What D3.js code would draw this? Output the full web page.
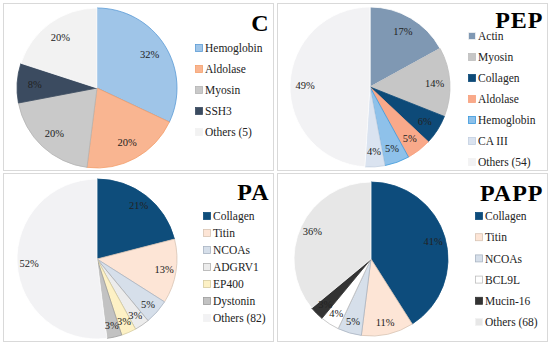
<!DOCTYPE html>
<html><head><meta charset="utf-8">
<script src="https://cdn.jsdelivr.net/npm/d3@7"></script>
<style>body{margin:0;background:#fff}svg{display:block}
svg text{font-family:"Times New Roman",Times,"Liberation Serif","DejaVu Serif",serif}</style>
</head><body>
<svg id="chart" width="550" height="346"></svg>
<script>
// ---- data ----
const cCategories = ["Hemoglobin","Aldolase","Myosin","SSH3","Others (5)"];
const cValues = [32,20,20,8,20];
const pepCategories = ["Actin","Myosin","Collagen","Aldolase","Hemoglobin","CA III","Others (54)"];
const pepValues = [17,14,6,5,5,4,49];
const paCategories = ["Collagen","Titin","NCOAs","ADGRV1","EP400","Dystonin","Others (82)"];
const paValues = [21,13,5,3,3,3,52];
const pappCategories = ["Collagen","Titin","NCOAs","BCL9L","Mucin-16","Others (68)"];
const pappValues = [41,11,5,4,3,36];

// ---- styles ----
const cFill = ["#9fc5e8","#f9b591","#c9c9c9","#3b4b60","#f2f2f2"];
const cStroke = ["#5b9bd5","#f4a06c","#b4b4b4","#3b4b60","#ffffff"];
const pepFill = ["#7f98b3","#c6c6c6","#0d4a78","#f9a98a","#8ec1ea","#dae3f0","#f2f2f4"];
const pepStroke = ["#ffffff","#bdbdbd","#0d4a78","#f7a07c","#3a98dc","#c3cfe0","#ffffff"];
const paFill = ["#0e4d7b","#fde5d6","#d6dfea","#ececec","#fdf1c5","#c2c2c2","#f2f2f4"];
const paStroke = ["#0e4d7b","#d8c4b4","#a9b4c2","#b0b0b0","#d6cb9e","#9c9c9c","#ffffff"];
const pappFill = ["#0d4c7c","#fde5d6","#d6dfea","#ffffff","#333333","#e7e7e7"];
const pappStroke = ["#0d4c7c","#d8c4b4","#a9b4c2","#bdbdbd","#333333","#ffffff"];

const svg = d3.select("#chart");

const panels = [
  {title:"C", cats:cCategories, vals:cValues, fill:cFill, stroke:cStroke,
   box:[3.5,3.5,270,167], cx:97, cy:88, r:80, lf:0.78, lx:195, ly:48, ls:21, tb:27},
  {title:"PEP", cats:pepCategories, vals:pepValues, fill:pepFill, stroke:pepStroke,
   box:[277.5,3.5,270,167], cx:370, cy:87, r:80, lf:0.81, lx:468, ly:36, ls:21, tb:24.5},
  {title:"PA", cats:paCategories, vals:paValues, fill:paFill, stroke:paStroke,
   box:[3.5,173.5,270,168], cx:97, cy:259, r:80, lf:0.85, lx:203, ly:216, ls:17, tb:26},
  {title:"PAPP", cats:pappCategories, vals:pappValues, fill:pappFill, stroke:pappStroke,
   box:[277.5,173.5,270,168], cx:371, cy:259, r:77, lf:0.84, lx:475, ly:216, ls:21.2, tb:27}
];

panels.forEach(p => {
  const g = svg.append("g");
  g.append("rect").attr("x",p.box[0]).attr("y",p.box[1]).attr("width",p.box[2]).attr("height",p.box[3])
    .attr("fill","#fff").attr("stroke","#d9d9d9").attr("stroke-width",1);

  const pie = d3.pie().sort(null).value(d => d)(p.vals);
  const arc = d3.arc().innerRadius(0).outerRadius(p.r);
  const labelArc = d3.arc().innerRadius(p.r*p.lf).outerRadius(p.r*p.lf);
  const pg = g.append("g").attr("transform",`translate(${p.cx},${p.cy})`);
  pg.selectAll("path").data(pie).join("path")
    .attr("d",arc)
    .attr("fill",(d,i)=>p.fill[i])
    .attr("stroke",(d,i)=>p.stroke[i])
    .attr("stroke-width",0.8)
    .attr("stroke-linejoin","round");
  pg.selectAll("text").data(pie).join("text")
    .attr("transform",d=>`translate(${labelArc.centroid(d)})`)
    .attr("text-anchor","middle").attr("dy","0.35em")
    .attr("font-size",10.5).attr("fill","#222")
    .text(d=>d.data+"%");

  // legend
  const lg = g.append("g");
  p.cats.forEach((c,i) => {
    const y = p.ly + i*p.ls;
    lg.append("rect").attr("x",p.lx+0.5).attr("y",y-3.5).attr("width",7).attr("height",7)
      .attr("fill",p.fill[i]).attr("stroke",p.stroke[i]==="#ffffff"? (p.fill[i]==="#ffffff"?"#999":"#f2f2f2") : p.stroke[i]).attr("stroke-width",0.8);
    lg.append("text").attr("x",p.lx+10).attr("y",y).attr("dy","0.36em")
      .attr("font-size",11.5).attr("fill","#222").text(c);
  });

  // title
  g.append("text").attr("x",p.box[0]+p.box[2]-4).attr("y",p.box[1]+p.tb)
    .attr("text-anchor","end").attr("font-weight","bold")
    .attr("font-size",24).attr("fill","#000").attr("letter-spacing",1).text(p.title);
});
</script>
</body></html>
